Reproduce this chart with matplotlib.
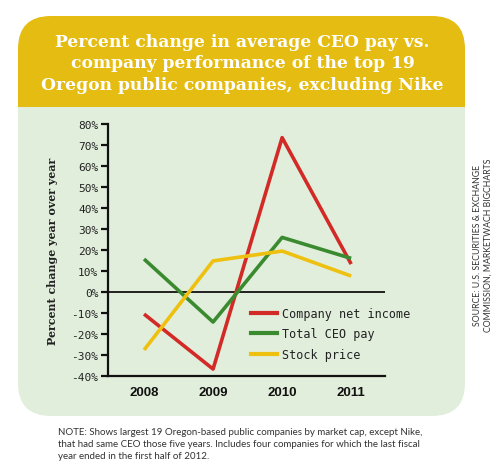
import matplotlib
matplotlib.use("Agg")
import matplotlib.pyplot as plt
from matplotlib.patches import FancyBboxPatch, Rectangle
from matplotlib.lines import Line2D

years = [2008, 2009, 2010, 2011]
net_income = [-10.5, -36.7, 73.5, 13.3]
ceo_pay = [15.7, -14.3, 26.0, 16.0]
stock_price = [-27.6, 14.8, 19.5, 7.6]
series_names = ["Company net income", "Total CEO pay", "Stock price"]
series_colors = ["#D22B27", "#3A8A2F", "#EEC00F"]
y_ticks = [-40, -30, -20, -10, 0, 10, 20, 30, 40, 50, 60, 70, 80]
y_tick_labels = ["-40%", "-30%", "-20%", "-10%", "0%", "10%", "20%", "30%",
                 "40%", "50%", "60%", "70%", "80%"]

title = ("Percent change in average CEO pay vs.\n"
         "company performance of the top 19\n"
         "Oregon public companies, excluding Nike")
note = ("NOTE: Shows largest 19 Oregon-based public companies by market cap, except Nike,\n"
        "that had same CEO those five years. Includes four companies for which the last fiscal\n"
        "year ended in the first half of 2012.")
source = "SOURCE: U.S. SECURITIES & EXCHANGE\nCOMMISSION, MARKETWACH BIGCHARTS"

W, H = 500, 477
fig = plt.figure(figsize=(W / 100, H / 100), dpi=100)
fig.patch.set_facecolor("white")

# background in pixel coordinates
bg = fig.add_axes([0, 0, 1, 1])
bg.set_xlim(0, W)
bg.set_ylim(H, 0)
bg.axis("off")

yellow = "#E5BC12"
green = "#E2EEDC"
L, R, T, B, HB = 18, 465, 17, 417, 108
rad = 33
bg.add_patch(FancyBboxPatch((L + rad, T + rad), R - L - 2 * rad, 150,
                            boxstyle=f"round,pad={rad}", fc=yellow, ec="none"))
bg.add_patch(Rectangle((L, HB), R - L, 200, fc=green, ec="none"))
bg.add_patch(FancyBboxPatch((L + rad, 250), R - L - 2 * rad, B - rad - 250,
                            boxstyle=f"round,pad={rad}", fc=green, ec="none"))

bg.text((L + R) / 2 + 1, 64, title, ha="center", va="center", color="white",
        fontsize=12.3, fontweight="bold", family="DejaVu Serif", linespacing=1.32)
bg.text(58, 444.5, note, ha="left", va="center", color="#333333",
        fontsize=7.05, family="Lato", linespacing=1.4)
bg.text(483, 245, source, ha="center", va="center", color="#333333", rotation=90,
        fontsize=6.3, family="Lato", linespacing=1.25)
bg.text(53, 251, "Percent change year over year", ha="center", va="center",
        rotation=90, fontsize=7.9, fontweight="bold", family="DejaVu Serif",
        color="#222222")

# main axes
ax_l, ax_r, ax_t, ax_b = 108, 385, 125, 377
ax = fig.add_axes([ax_l / W, 1 - ax_b / H, (ax_r - ax_l) / W, (ax_b - ax_t) / H])
ax.patch.set_alpha(0)
ax.set_xlim(2007.478, 2011.49)
ax.set_ylim(-40, 80)
for s in ["top", "right"]:
    ax.spines[s].set_visible(False)
for s in ["left", "bottom"]:
    ax.spines[s].set_linewidth(1.6)
    ax.spines[s].set_color("#111111")
ax.axhline(0, color="#111111", lw=1.3, zorder=1)

for vals, name, col in zip([net_income, ceo_pay, stock_price], series_names, series_colors):
    ax.plot(years, vals, color=col, lw=2.6, label=name, solid_capstyle="butt", zorder=3)

ax.set_yticks(y_ticks)
ax.set_yticklabels(y_tick_labels, family="DejaVu Sans Mono", fontsize=8, color="#222222")
ax.tick_params(axis="y", direction="out", length=5, width=1.6, pad=2, color="#111111")
ax.set_xticks(years)
ax.set_xticklabels([str(y) for y in years], fontweight="bold", fontsize=9.5,
                   family="Liberation Sans", color="#111111")
ax.tick_params(axis="x", length=0, pad=7)

handles = [Line2D([0], [0], color=c, lw=3) for c in series_colors]
leg = ax.legend(handles, series_names, loc="upper left",
                bbox_to_anchor=((251 - ax_l) / (ax_r - ax_l), 1 - (308 - ax_t) / (ax_b - ax_t)),
                frameon=False, handlelength=2.2, handletextpad=0.45, labelspacing=0.62,
                borderpad=0, borderaxespad=0,
                prop={"family": "DejaVu Sans Mono", "size": 8.5})
for t in leg.get_texts():
    t.set_color("#222222")

fig.savefig("out.png", dpi=100)
